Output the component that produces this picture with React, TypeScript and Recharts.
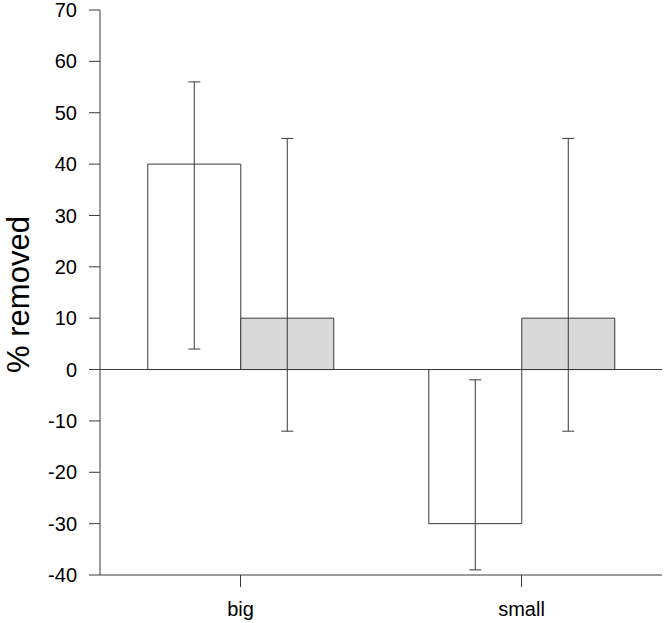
import { Bar, BarChart, ErrorBar, ReferenceLine, XAxis, YAxis } from "recharts";

const categories = ["big", "small"];
const whiteValues = [40, -30];
const whiteLow = [4, -39];
const whiteHigh = [56, -2];
const grayValues = [10, 10];
const grayLow = [-12, -12];
const grayHigh = [45, 45];
const yTicks = [-40, -30, -20, -10, 0, 10, 20, 30, 40, 50, 60, 70];

const data = categories.map((name, i) => ({
  name,
  white: whiteValues[i],
  whiteErr: [whiteValues[i] - whiteLow[i], whiteHigh[i] - whiteValues[i]],
  gray: grayValues[i],
  grayErr: [grayValues[i] - grayLow[i], grayHigh[i] - grayValues[i]],
}));

const ink = "#3a3a3a";
const font = "'Liberation Sans', Arial, sans-serif";

function YLabel(props: any) {
  const vb = props.viewBox || { x: 0, y: 0, height: 0 };
  const cx = vb.x + 18;
  const cy = vb.y + vb.height / 2 + 2;
  return (
    <text
      x={cx}
      y={cy}
      transform={`rotate(-90 ${cx} ${cy})`}
      textAnchor="middle"
      dominantBaseline="central"
      fontSize={31}
      fontFamily={font}
      fill="#000"
    >
      % removed
    </text>
  );
}

export default function App() {
  return (
    <div style={{ position: "fixed", left: 0, top: 0, background: "#fff" }}>
      <BarChart
        width={664}
        height={623}
        data={data}
        margin={{ top: 10, right: 2, bottom: 0, left: 0 }}
        barCategoryGap="17%"
        barGap={0}
      >
        <XAxis
          dataKey="name"
          height={48}
          stroke={ink}
          tickSize={12}
          tickMargin={15}
          tick={{ fill: "#000", fontSize: 20, fontFamily: font }}
        />
        <YAxis
          width={100}
          domain={[-40, 70]}
          ticks={yTicks}
          interval={0}
          stroke={ink}
          tickSize={11}
          tickMargin={12}
          tick={{ fill: "#000", fontSize: 20, fontFamily: font }}
          label={<YLabel />}
        />
        <ReferenceLine y={0} stroke={ink} />
        <Bar dataKey="white" fill="#ffffff" stroke={ink} isAnimationActive={false}>
          <ErrorBar dataKey="whiteErr" width={6} stroke={ink} strokeWidth={1} />
        </Bar>
        <Bar dataKey="gray" fill="#d9d9d9" stroke={ink} isAnimationActive={false}>
          <ErrorBar dataKey="grayErr" width={6} stroke={ink} strokeWidth={1} />
        </Bar>
      </BarChart>
    </div>
  );
}
